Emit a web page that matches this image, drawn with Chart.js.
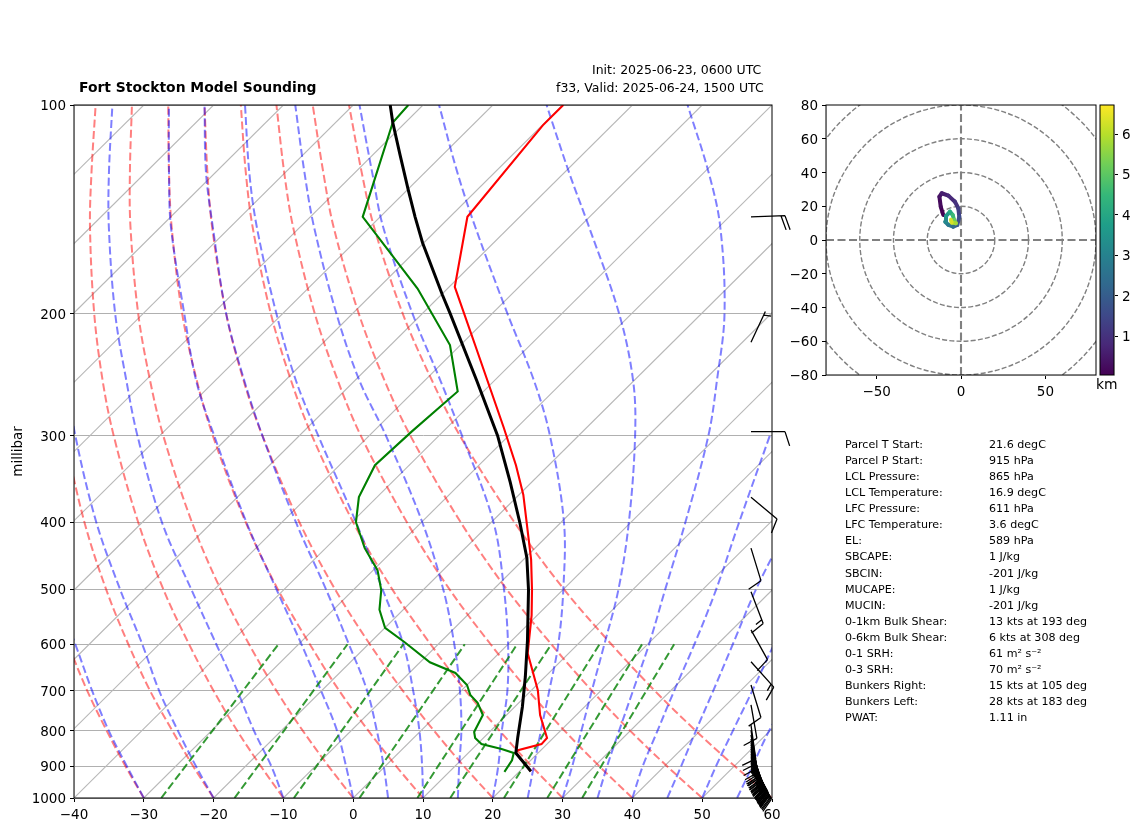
<!DOCTYPE html>
<html>
<head>
<meta charset="utf-8">
<title>Fort Stockton Model Sounding</title>
<script src="https://cdn.jsdelivr.net/npm/chart.js@4/dist/chart.umd.min.js"></script>
<style>
  body { margin: 0; background: #fff; width: 1142px; height: 832px; overflow: hidden; position: relative; }
  canvas { position: absolute; left: 0; top: 0; }
  .txt { position: absolute; white-space: nowrap; line-height: 1; font-family: "DejaVu Sans", sans-serif; color: #000; }
</style>
</head>
<body>
<canvas id="skewt" width="1142" height="832"></canvas>
<canvas id="hodograph" width="1142" height="832"></canvas>
<canvas id="colorbar" width="1142" height="832"></canvas>
<div id="labels"></div>

<script>
// sounding (hPa and degC)
const tempPressure = [100, 107, 145, 183, 222, 292, 331, 365, 453, 501, 545, 618, 699, 759, 819, 836, 853, 861, 915];
const tempValues = [-69.9, -69.9, -67.5, -59.2, -47.9, -31.9, -24.7, -19.4, -8.9, -4.4, -0.8, 4.1, 10.9, 14.8, 19.1, 19.2, 16.7, 16.8, 21.6];
const dewPressure = [100, 106, 145, 184, 222, 259, 296, 331, 368, 400, 436, 469, 501, 535, 568, 596, 637, 660, 687, 710, 729, 759, 803, 819, 836, 850, 861, 882, 917];
const dewValues = [-92.1, -91.8, -82.5, -64.3, -51.5, -43.7, -44.5, -44.9, -42.6, -39.4, -34.4, -29.4, -26, -23.4, -20, -15.1, -8.6, -3.4, 0, 1.9, 4.1, 6.6, 7.8, 8.8, 10.6, 14.2, 16.5, 17.3, 17.9];
const parcelPressure = [100, 106, 118, 132, 145, 158, 188, 200, 250, 300, 350, 401, 450, 501, 592, 669, 739, 817, 861, 915];
const parcelValues = [-94.7, -91.8, -86.1, -80.1, -75, -70.2, -59.8, -56, -42.5, -31.6, -23.1, -15.8, -9.8, -4.9, 2.2, 7.2, 11.1, 14.8, 16.8, 21.6];

// background curves, also
const backgroundLevels = [1000, 900, 800, 700, 600, 500, 400, 300, 250, 200, 150, 125, 100];
const dryAdiabats = [
  [-30, -37.2, -45, -53.6, -63, -73.7],
  [-20, -27.5, -35.6, -44.6, -54.4, -65.5, -78.3, -93.7],
  [-10, -17.8, -26.3, -35.5, -45.7, -57.3, -70.6, -86.6, -96.1, -107, -120.1, -127.8, -136.9],
  [0, -8.1, -16.9, -26.5, -37.1, -49.1, -62.9, -79.5, -89.3, -100.7, -114.3, -122.3, -131.7],
  [10, 1.6, -7.5, -17.5, -28.4, -40.9, -55.2, -72.4, -82.6, -94.4, -108.4, -116.7, -126.5],
  [20, 11.3, 1.9, -8.4, -19.8, -32.7, -47.5, -65.3, -75.9, -88.1, -102.6, -111.2, -121.3],
  [30, 21, 11.3, 0.6, -11.1, -24.5, -39.8, -58.2, -69.1, -81.7, -96.8, -105.7, -116.1],
  [40, 30.7, 20.6, 9.6, -2.5, -16.3, -32.1, -51.2, -62.4, -75.4, -91, -100.2, -111],
  [50, 40.4, 30, 18.7, 6.2, -8.1, -24.4, -44.1, -55.7, -69.1, -85.2, -94.6, -105.8],
  [60, 50.1, 39.4, 27.7, 14.8, 0.1, -16.7, -37, -48.9, -62.8, -79.4, -89.1, -100.6],
];
const moistAdiabats = [
  [-30, -37, -44.7, -52.9, -62, -73],
  [-20, -27.1, -34.8, -43.3, -52.4, -63.5, -76.6, -92.1, -101.2],
  [-10, -16.3, -23.9, -32.1, -41.8, -53.3, -67.2, -83.2, -92.7, -104, -117.4, -125.3, -134.5],
  [0, -5.6, -12, -20.1, -29.6, -41.1, -55.1, -72.2, -82.7, -94.1, -108.5, -116.7, -126.4],
  [5, -0.2, -6.3, -13.5, -22.8, -34, -48, -65.3, -75.8, -88.1, -102.5, -111.4, -121.3],
  [10, 5.3, -0.2, -6.9, -15, -25.9, -39.4, -57.3, -68.4, -80.9, -96.2, -105.2, -115.5],
  [15, 10.6, 5.8, -0.2, -7.7, -17.2, -29.9, -47.6, -59.3, -72.3, -88, -97.3, -108.3],
  [20, 16.2, 11.6, 6.6, 0, -8.5, -19.7, -36.7, -47.7, -61.4, -78.1, -87.6, -99.1],
  [25, 21.3, 17.2, 12.6, 7.2, 0, -9.6, -24.1, -34.3, -47.8, -64.9, -75.4, -87.7],
  [30, 26.8, 23, 18.7, 13.8, 7.9, -0.3, -11.9, -20.1, -31.8, -48.6, -59.4, -72.3],
  [35, 31.8, 28.4, 24.6, 20.2, 14.6, 7.8, -1.4, -8.1, -16.7, -29.8, -39.4, -52.1],
  [40, 36.9, 33.9, 30.5, 26.7, 21.9, 15.5, 7.4],
  [45, 42.4, 39.4, 36.1, 32.2, 27.6, 22.8],
  [50, 47.4, 44.7, 41.7, 38.1],
  [55, 52.6, 49.9, 47.4],
];
const mixingBottom = [-27.5, -17, -8.5, 0.9, 9.2, 13.9, 21.6, 27.8, 32.8];
const mixingTop = [-32.9, -23, -15, -6.2, 1.3, 6.2, 13.1, 19.2, 23.8];
const isothermTemps = [-130, -120, -110, -100, -90, -80, -70, -60, -50, -40, -30, -20, -10, 0, 10, 20, 30, 40, 50, 60];

// wind barbs
const windPressure = [145, 220, 296, 368, 436, 504, 572, 636, 687, 734, 785, 798, 811, 822, 833, 838, 844, 849, 855, 859, 864, 868, 873, 877, 882, 886, 890, 894, 899, 903, 908, 912, 917];
const windDirection = [88, 25, 90, 130, 163, 159, 151, 138, 163, 170, 172, 171, 170, 168, 166, 165, 163, 162, 160, 159, 158, 157, 155, 154, 152, 151, 150, 149, 148, 147, 145, 144, 143];
const windSpeed = [20, 5, 10, 10, 10, 15, 10, 15, 10, 10, 10, 10, 10, 15, 15, 20, 20, 20, 20, 20, 25, 25, 25, 25, 25, 25, 25, 25, 25, 25, 25, 25, 25];

// hodograph trace
const hodoU = [-10.5, -12, -12.8, -11.4, -7.5, -3.6, -1.6, -1, -2.2, -4.6, -7.5, -9.3, -8.9, -6.5, -4.9, -4.1, -3, -5.5, -6];
const hodoV = [14.8, 19.7, 25.7, 27.7, 26.3, 22.7, 18.8, 13.8, 8.9, 7.9, 8.9, 10.8, 14.2, 16.8, 14.8, 11.9, 9.9, 10.3, 12];
const hodoHeight = [0.04, 0.2, 0.4, 0.6, 0.8, 1, 1.3, 1.6, 2, 2.4, 2.8, 3.2, 3.6, 4.1, 4.6, 5.2, 5.8, 6.3, 6.7];
const hodoRings = [20, 40, 60, 80, 100];

// tick labels
const xTicks = [-40, -30, -20, -10, 0, 10, 20, 30, 40, 50, 60];
const yTicks = [100, 200, 300, 400, 500, 600, 700, 800, 900, 1000];
const hodoXTicks = [-50, 0, 50];
const hodoYTicks = [-80, -60, -40, -20, 0, 20, 40, 60, 80];
const colorbarTicks = [1, 2, 3, 4, 5, 6];

// parameter table
const statLabels = ['Parcel T Start:', 'Parcel P Start:', 'LCL Pressure:', 'LCL Temperature:', 'LFC Pressure:', 'LFC Temperature:', 'EL:', 'SBCAPE:', 'SBCIN:', 'MUCAPE:', 'MUCIN:', '0-1km Bulk Shear:', '0-6km Bulk Shear:', '0-1 SRH:', '0-3 SRH:', 'Bunkers Right:', 'Bunkers Left:', 'PWAT:'];
const statValues = ['21.6 degC', '915 hPa', '865 hPa', '16.9 degC', '611 hPa', '3.6 degC', '589 hPa', '1 J/kg', '-201 J/kg', '1 J/kg', '-201 J/kg', '13 kts at 193 deg', '6 kts at 308 deg', '61 m\u00b2 s\u207b\u00b2', '70 m\u00b2 s\u207b\u00b2', '15 kts at 105 deg', '28 kts at 183 deg', '1.11 in'];

const VIRIDIS = ['#440154', '#482878', '#3e4989', '#31688e', '#26828e', '#1f9e89', '#35b779', '#6ece58', '#b5de2b', '#fde725'];
const COLORBAR_MIN = 0.035;
const COLORBAR_MAX = 6.72;
const SKEW = 100;
const FONT = '"DejaVu Sans", sans-serif';
const TICK_FONT = { family: FONT, size: 13.5 };

Chart.defaults.font.family = FONT;
Chart.defaults.color = '#000';

function skewPoint(temp, pressure) {
  return { x: temp + SKEW * Math.log10(1000 / pressure), y: pressure };
}

function profile(pressures, temps) {
  return temps.map((temp, i) => skewPoint(temp, pressures[i]));
}

function minusLabel(value) {
  return String(value).replace('-', '\u2212');
}

function lineDataset(data, color, width, dash, tension) {
  return {
    data: data,
    showLine: true,
    pointRadius: 0,
    borderColor: color,
    borderWidth: width,
    borderDash: dash || [],
    tension: tension || 0,
  };
}

function hexToRgb(hex) {
  return [1, 3, 5].map((i) => parseInt(hex.slice(i, i + 2), 16));
}

function heightColor(height) {
  const t = (height - COLORBAR_MIN) / (COLORBAR_MAX - COLORBAR_MIN);
  const pos = Math.min(Math.max(t, 0), 1) * (VIRIDIS.length - 1);
  const low = Math.min(Math.floor(pos), VIRIDIS.length - 2);
  const a = hexToRgb(VIRIDIS[low]);
  const b = hexToRgb(VIRIDIS[low + 1]);
  const mix = a.map((c, i) => Math.round(c + (b[i] - c) * (pos - low)));
  return `rgb(${mix.join(',')})`;
}

const framePlugin = {
  id: 'frame',
  afterDraw(chart) {
    const { ctx, chartArea: a } = chart;
    ctx.save();
    ctx.strokeStyle = '#000';
    ctx.lineWidth = 1;
    ctx.strokeRect(a.left, a.top, a.right - a.left, a.bottom - a.top);
    ctx.restore();
  },
};

function drawBarb(ctx, tipX, tipY, direction, speed) {
  const angle = (direction * Math.PI) / 180;
  const dx = Math.sin(angle);
  const dy = -Math.cos(angle);
  const shaft = 34;
  const farX = tipX + dx * shaft;
  const farY = tipY + dy * shaft;
  const featherAngle = Math.atan2(dy, dx) + (72 * Math.PI) / 180;
  const fx = Math.cos(featherAngle);
  const fy = Math.sin(featherAngle);

  ctx.beginPath();
  ctx.moveTo(tipX, tipY);
  ctx.lineTo(farX, farY);

  let remaining = speed;
  let offset = speed < 10 ? 4 : 0;
  while (remaining >= 5) {
    const length = remaining >= 10 ? 15 : 7.5;
    const baseX = farX - dx * offset;
    const baseY = farY - dy * offset;
    ctx.moveTo(baseX, baseY);
    ctx.lineTo(baseX + fx * length, baseY + fy * length);
    remaining -= remaining >= 10 ? 10 : 5;
    offset += 4;
  }
  ctx.stroke();
}

const barbPlugin = {
  id: 'barbs',
  afterDraw(chart) {
    const { ctx, chartArea, scales } = chart;
    ctx.save();
    ctx.strokeStyle = '#000';
    ctx.lineWidth = 1.3;
    windPressure.forEach((pressure, i) => {
      drawBarb(ctx, chartArea.right - 21, scales.y.getPixelForValue(pressure), windDirection[i], windSpeed[i]);
    });
    ctx.restore();
  },
};

const ringPlugin = {
  id: 'rings',
  beforeDatasetsDraw(chart) {
    const { ctx, chartArea: a, scales } = chart;
    ctx.save();
    ctx.beginPath();
    ctx.rect(a.left, a.top, a.right - a.left, a.bottom - a.top);
    ctx.clip();
    ctx.strokeStyle = 'rgb(128,128,128)';
    ctx.lineWidth = 1.4;
    ctx.setLineDash([5, 2.2]);
    const cx = scales.x.getPixelForValue(0);
    const cy = scales.y.getPixelForValue(0);
    hodoRings.forEach((ring) => {
      ctx.beginPath();
      ctx.ellipse(cx, cy, scales.x.getPixelForValue(ring) - cx, cy - scales.y.getPixelForValue(ring), 0, 0, Math.PI * 2);
      ctx.stroke();
    });
    ctx.restore();
  },
};

const colorbarPlugin = {
  id: 'colorbarFill',
  beforeDatasetsDraw(chart) {
    const { ctx, chartArea: a, scales } = chart;
    const gradient = ctx.createLinearGradient(0, scales.y.getPixelForValue(COLORBAR_MIN), 0, scales.y.getPixelForValue(COLORBAR_MAX));
    VIRIDIS.forEach((color, i) => gradient.addColorStop(i / (VIRIDIS.length - 1), color));
    ctx.save();
    ctx.fillStyle = gradient;
    ctx.fillRect(a.left, a.top, a.right - a.left, a.bottom - a.top);
    ctx.restore();
  },
};

function tickGrid(showInside) {
  return {
    display: true,
    drawOnChartArea: showInside,
    color: '#b0b0b0',
    lineWidth: 1,
    tickColor: '#000',
    tickLength: 4,
    tickWidth: 1,
  };
}

function fixedTicks(values) {
  return (scale) => {
    scale.ticks = values.map((value) => ({ value: value }));
  };
}

function skewDatasets() {
  const sets = [
    lineDataset(profile(parcelPressure, parcelValues), '#000', 3),
    lineDataset(profile(dewPressure, dewValues), 'green', 2.1),
    lineDataset(profile(tempPressure, tempValues), 'red', 2.1),
  ];
  mixingBottom.forEach((temp, i) => {
    sets.push(lineDataset([skewPoint(temp, 1000), skewPoint(mixingTop[i], 600)], 'rgba(0,128,0,0.8)', 2, [8, 3.5]));
  });
  moistAdiabats.forEach((row) => {
    sets.push(lineDataset(row.map((t, i) => skewPoint(t, backgroundLevels[i])), 'rgba(0,0,255,0.5)', 2, [8, 3.5], 0.35));
  });
  dryAdiabats.forEach((row) => {
    sets.push(lineDataset(row.map((t, i) => skewPoint(t, backgroundLevels[i])), 'rgba(255,0,0,0.5)', 2, [8, 3.5], 0.35));
  });
  isothermTemps.forEach((temp) => {
    sets.push(lineDataset([skewPoint(temp, 1000), skewPoint(temp, 100)], '#b8b8b8', 1.1));
  });
  return sets;
}

function createSkewT() {
  new Chart(document.getElementById('skewt'), {
    type: 'scatter',
    data: { datasets: skewDatasets() },
    plugins: [framePlugin, barbPlugin],
    options: {
      responsive: false,
      animation: false,
      devicePixelRatio: 1,
      layout: { padding: { left: 0, top: 105, right: 370, bottom: 0 } },
      plugins: { legend: { display: false }, tooltip: { enabled: false } },
      scales: {
        x: {
          type: 'linear',
          min: -40,
          max: 60,
          afterBuildTicks: fixedTicks(xTicks),
          afterFit: (scale) => { scale.height = 34; },
          grid: tickGrid(false),
          ticks: { font: TICK_FONT, maxRotation: 0, autoSkip: false, padding: 5, callback: minusLabel },
        },
        y: {
          type: 'logarithmic',
          reverse: true,
          min: 100,
          max: 1000,
          afterBuildTicks: fixedTicks(yTicks),
          afterFit: (scale) => { scale.width = 74; },
          grid: tickGrid(true),
          title: { display: true, text: 'millibar', font: { family: FONT, size: 13.5 }, padding: { top: 10, bottom: 0 } },
          ticks: { font: TICK_FONT, autoSkip: false, padding: 4, labelOffset: 1.5, callback: (value) => String(value) },
        },
      },
    },
  });
}

function createHodograph() {
  const trace = hodoU.map((u, i) => ({ x: u, y: hodoV[i] }));
  const grey = 'rgb(128,128,128)';
  new Chart(document.getElementById('hodograph'), {
    type: 'scatter',
    data: {
      datasets: [
        {
          data: trace,
          showLine: true,
          pointRadius: 0,
          borderWidth: 4,
          borderCapStyle: 'round',
          segment: { borderColor: (ctx) => heightColor(hodoHeight[ctx.p0DataIndex]) },
        },
        lineDataset([{ x: -80, y: 0 }, { x: 80, y: 0 }], grey, 2.1, [8, 3.5]),
        lineDataset([{ x: 0, y: -80 }, { x: 0, y: 80 }], grey, 2.1, [8, 3.5]),
      ],
    },
    plugins: [ringPlugin, framePlugin],
    options: {
      responsive: false,
      animation: false,
      devicePixelRatio: 1,
      layout: { padding: { left: 776, top: 105, right: 46, bottom: 427 } },
      plugins: { legend: { display: false }, tooltip: { enabled: false } },
      scales: {
        x: {
          type: 'linear',
          min: -80,
          max: 80,
          afterBuildTicks: fixedTicks(hodoXTicks),
          afterFit: (scale) => { scale.height = 30; },
          grid: tickGrid(false),
          ticks: { font: TICK_FONT, maxRotation: 0, autoSkip: false, padding: 5, callback: minusLabel },
        },
        y: {
          type: 'linear',
          min: -80,
          max: 80,
          afterBuildTicks: fixedTicks(hodoYTicks),
          afterFit: (scale) => { scale.width = 50; },
          grid: tickGrid(false),
          ticks: { font: TICK_FONT, autoSkip: false, padding: 4, labelOffset: 1.5, callback: minusLabel },
        },
      },
    },
  });
}

function createColorbar() {
  new Chart(document.getElementById('colorbar'), {
    type: 'scatter',
    data: { datasets: [] },
    plugins: [colorbarPlugin, framePlugin],
    options: {
      responsive: false,
      animation: false,
      devicePixelRatio: 1,
      layout: { padding: { left: 1100, top: 105, right: 0, bottom: 457 } },
      plugins: { legend: { display: false }, tooltip: { enabled: false } },
      scales: {
        x: { type: 'linear', display: false, min: 0, max: 1 },
        y: {
          type: 'linear',
          position: 'right',
          min: COLORBAR_MIN,
          max: COLORBAR_MAX,
          afterBuildTicks: fixedTicks(colorbarTicks),
          afterFit: (scale) => { scale.width = 28; },
          grid: tickGrid(false),
          ticks: { font: TICK_FONT, autoSkip: false, padding: 4, labelOffset: 1.5, callback: (value) => String(value) },
        },
      },
    },
  });
}

function addText(text, left, top, size, bold) {
  const el = document.createElement('div');
  el.className = 'txt';
  el.textContent = text;
  el.style.left = left + 'px';
  el.style.top = top + 'px';
  el.style.fontSize = size + 'px';
  if (bold) el.style.fontWeight = 'bold';
  document.getElementById('labels').appendChild(el);
}

function addLabels() {
  addText('Fort Stockton Model Sounding', 79, 80.5, 13.9, true);
  addText('Init: 2025-06-23, 0600 UTC', 592, 64, 12.5);
  addText('f33, Valid: 2025-06-24, 1500 UTC', 556, 81.5, 12.5);
  addText('km', 1096, 378, 13.9);
  statLabels.forEach((label, i) => {
    const top = 438.8 + i * 16.09;
    addText(label, 845, top, 11.1);
    addText(statValues[i], 989, top, 11.1);
  });
}

function init() {
  createSkewT();
  createHodograph();
  createColorbar();
  addLabels();
}

init();
</script>
</body>
</html>
